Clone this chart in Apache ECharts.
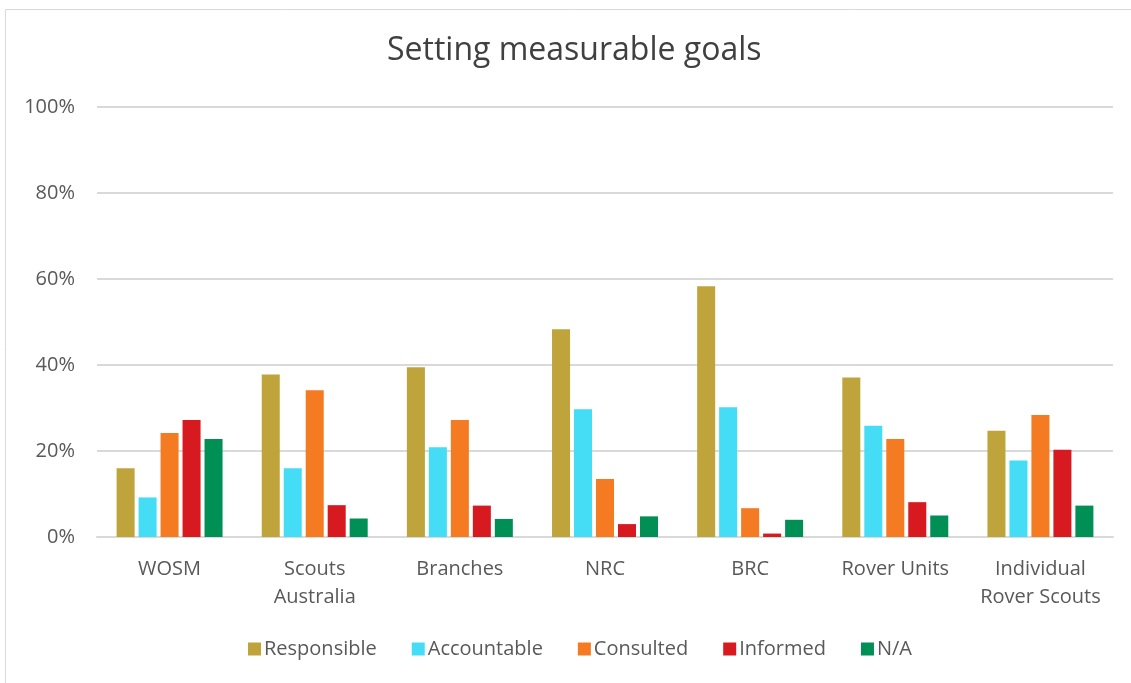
<!DOCTYPE html>
<html>
<head>
<meta charset="utf-8">
<script src="https://cdn.jsdelivr.net/npm/echarts@6/dist/echarts.min.js"></script>
<style>
html,body{margin:0;padding:0;background:#fff;}
#c{width:1131px;height:683px;}
</style>
</head>
<body>
<div id="c"></div>
<script>
const categories = ['WOSM', 'Scouts\nAustralia', 'Branches', 'NRC', 'BRC', 'Rover Units', 'Individual\nRover Scouts'];
const seriesNames = ['Responsible', 'Accountable', 'Consulted', 'Informed', 'N/A'];
const responsible = [16.0, 37.8, 39.5, 48.3, 58.3, 37.1, 24.7];
const accountable = [9.2, 16.0, 20.9, 29.7, 30.2, 25.9, 17.8];
const consulted   = [24.2, 34.1, 27.2, 13.5, 6.7, 22.8, 28.4];
const informed    = [27.2, 7.4, 7.3, 3.0, 0.8, 8.1, 20.3];
const na          = [22.8, 4.3, 4.2, 4.8, 4.0, 5.0, 7.3];
const yTicks = [0, 20, 40, 60, 80, 100];
const colors = ['#BEA43A', '#45DDF5', '#F47B22', '#D71920', '#008F55'];

const FONT = '"Open Sans", sans-serif';
const values = [responsible, accountable, consulted, informed, na];

const chart = echarts.init(document.getElementById('c'), null, {renderer: 'canvas'});
chart.setOption({
  animation: false,
  backgroundColor: '#fff',
  title: {
    text: 'Setting measurable goals',
    left: 382,
    top: 30,
    textStyle: {fontFamily: FONT, fontSize: 32, fontWeight: 'normal', color: '#404040'}
  },
  graphic: [{
    type: 'rect',
    shape: {x: 5.5, y: 9.5, width: 1140, height: 700},
    style: {fill: 'none', stroke: '#D9D9D9', lineWidth: 1},
    silent: true
  }],
  legend: {
    data: seriesNames,
    bottom: 19,
    left: 243,
    itemWidth: 13,
    itemHeight: 13,
    itemGap: 35,
    icon: 'rect',
    textStyle: {fontFamily: FONT, fontSize: 20, color: '#595959', padding: [0, 0, 0, -2]}
  },
  grid: {left: 97, right: 18, top: 107, bottom: 146, containLabel: false},
  xAxis: {
    type: 'category',
    data: categories,
    axisLine: {lineStyle: {color: '#D9D9D9', width: 2}},
    axisTick: {show: false},
    axisLabel: {fontFamily: FONT, fontSize: 20, color: '#595959', lineHeight: 28, margin: 18, interval: 0}
  },
  yAxis: {
    type: 'value',
    min: yTicks[0],
    max: yTicks[yTicks.length - 1],
    interval: 20,
    axisLine: {show: false},
    axisTick: {show: false},
    splitLine: {lineStyle: {color: '#D9D9D9', width: 2}},
    axisLabel: {fontFamily: FONT, fontSize: 20, color: '#595959', margin: 22, formatter: v => v + '%'}
  },
  series: seriesNames.map((n, i) => ({
    name: n,
    type: 'bar',
    data: values[i],
    barGap: '22%',
    barCategoryGap: '27%',
    itemStyle: {color: colors[i]}
  }))
});
</script>
</body>
</html>
